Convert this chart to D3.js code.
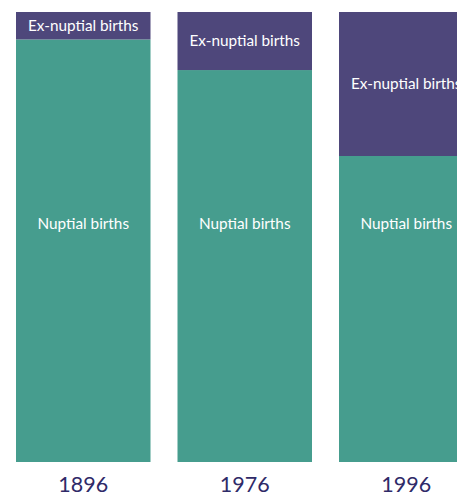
<!DOCTYPE html>
<html>
<head>
<meta charset="utf-8">
<script src="https://cdn.jsdelivr.net/npm/d3@7"></script>
<style>
  body { margin: 0; background: #fff; }
  svg { display: block; font-family: "Lato", "Open Sans", sans-serif; }
</style>
</head>
<body>
<div id="chart"></div>
<script>
// share of births (%) by year
const years = ["1896", "1976", "1996"];
const exNuptial = [6.1, 12.9, 32];
const nuptial = [93.9, 87.1, 68];

const width = 457;
const height = 498;
const marginTop = 12;
const marginBottom = 36;
const marginLeft = 16;

const svg = d3.select("#chart").append("svg")
    .attr("width", width)
    .attr("height", height)
    .attr("viewBox", [0, 0, width, height]);

// bars are 134px wide with a 27px gap, the last one runs off the edge
const x = d3.scaleBand()
    .domain(years)
    .range([marginLeft, marginLeft + 3 * 161.5 - 27])
    .paddingInner(27 / 161.5)
    .paddingOuter(0);

const y = d3.scaleLinear()
    .domain([0, 100])
    .range([height - marginBottom, marginTop]);

const rows = years.map((yr, i) => ({year: yr, ex: exNuptial[i], nup: nuptial[i]}));

const g = svg.append("g")
  .selectAll("g")
  .data(rows)
  .join("g")
    .attr("transform", d => `translate(${x(d.year)},0)`);

// nuptial (bottom)
g.append("rect")
    .attr("y", d => y(d.nup))
    .attr("width", x.bandwidth())
    .attr("height", d => y(0) - y(d.nup))
    .attr("fill", "#469d8e");

// ex-nuptial (top)
g.append("rect")
    .attr("y", d => y(d.nup + d.ex))
    .attr("width", x.bandwidth())
    .attr("height", d => y(d.nup) - y(d.nup + d.ex))
    .attr("fill", "#4e477b");

g.append("text")
    .attr("x", x.bandwidth() / 2)
    .attr("y", d => (y(d.nup + d.ex) + y(d.nup)) / 2)
    .attr("dy", "0.35em")
    .attr("text-anchor", "middle")
    .attr("fill", "#fff")
    .attr("font-size", 15.3)
    .text("Ex-nuptial births");

g.append("text")
    .attr("x", x.bandwidth() / 2)
    .attr("y", y(52.9))
    .attr("dy", "0.35em")
    .attr("text-anchor", "middle")
    .attr("fill", "#fff")
    .attr("font-size", 15.3)
    .text("Nuptial births");

// year labels
svg.append("g")
    .attr("transform", `translate(0,${height - marginBottom})`)
    .call(d3.axisBottom(x).tickSize(0).tickPadding(15))
    .call(g => g.select(".domain").remove())
    .call(g => g.selectAll("text")
        .attr("font-size", 21.5)
        .attr("font-family", "Lato, sans-serif")
        .attr("fill", "#2f2a68"));
</script>
</body>
</html>
